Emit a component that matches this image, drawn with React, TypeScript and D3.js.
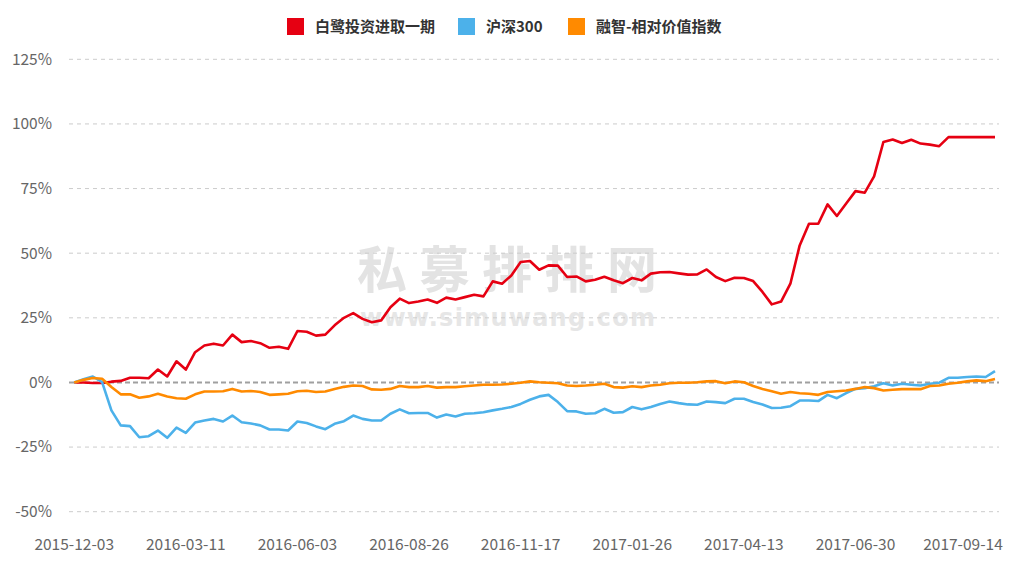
import * as d3 from "d3";

// 白鹭投资进取一期 vs 沪深300 vs 融智-相对价值指数 (cumulative return, %)
const tickLabels = [
  "2015-12-03", "2016-03-11", "2016-06-03", "2016-08-26", "2016-11-17",
  "2017-01-26", "2017-04-13", "2017-06-30", "2017-09-14",
];
const tickEvery = 12;

const fundValues = [
  0, 0, -0.2, -0.2, 0.3, 0.6, 1.8, 1.8, 1.6, 5.0,
  2.3, 8.2, 5.0, 11.7, 14.3, 15.0, 14.3, 18.5, 15.6, 16.0,
  15.2, 13.4, 13.8, 13.0, 19.9, 19.6, 18.1, 18.5, 22.1, 25.0,
  26.8, 24.6, 23.3, 24.0, 29.1, 32.4, 30.7, 31.3, 32.1, 30.8,
  32.8, 32.1, 33.0, 33.9, 33.3, 39.1, 38.2, 41.4, 46.6, 47.0,
  43.6, 45.3, 45.2, 40.8, 41.0, 39.1, 39.7, 40.9, 39.5, 38.4,
  40.4, 39.5, 42.1, 42.6, 42.7, 42.2, 41.7, 41.8, 43.7, 40.8,
  39.2, 40.5, 40.4, 39.2, 35.0, 30.2, 31.3, 38.2, 53.0, 61.4,
  61.4, 68.9, 64.4, 69.2, 74.0, 73.4, 79.7, 93.0, 94.0, 92.6,
  93.9, 92.4, 92.0, 91.4, 94.9, 94.9, 94.9, 94.9, 94.9, 94.9,
];

const hs300Values = [
  0, 1.2, 2.3, 0.1, -10.8, -16.6, -16.9, -21.2, -20.8, -18.6,
  -21.4, -17.5, -19.5, -15.5, -14.7, -14.1, -15.1, -12.8, -15.4, -15.9,
  -16.6, -18.2, -18.2, -18.6, -15.1, -15.7, -17.0, -18.1, -16.0, -15.0,
  -12.8, -14.1, -14.7, -14.7, -12.1, -10.4, -11.9, -11.8, -11.8, -13.6,
  -12.4, -13.2, -12.1, -11.9, -11.5, -10.8, -10.2, -9.5, -8.3, -6.7,
  -5.4, -4.8, -7.6, -11.1, -11.2, -12.1, -11.9, -10.2, -11.7, -11.5,
  -9.5, -10.4, -9.5, -8.3, -7.4, -8.0, -8.5, -8.6, -7.4, -7.6,
  -8.0, -6.3, -6.3, -7.6, -8.5, -9.9, -9.8, -9.2, -7.0, -7.0,
  -7.2, -4.8, -6.1, -4.1, -2.5, -2.2, -1.5, -0.3, -1.2, -0.5,
  -0.9, -1.2, -0.5, -0.1, 1.8, 1.8, 2.1, 2.3, 2.1, 4.4,
];

const indexValues = [
  0, 1.0, 1.7, 1.4, -1.8, -4.6, -4.6, -5.9, -5.4, -4.4,
  -5.4, -6.1, -6.3, -4.6, -3.5, -3.5, -3.4, -2.5, -3.5, -3.3,
  -3.7, -4.8, -4.6, -4.4, -3.4, -3.2, -3.7, -3.5, -2.5, -1.7,
  -1.2, -1.4, -2.7, -2.8, -2.5, -1.4, -1.8, -1.8, -1.4, -2.0,
  -1.8, -1.8, -1.5, -1.2, -0.9, -0.9, -0.8, -0.5, -0.1, 0.4,
  0.1, -0.1, -0.3, -1.2, -1.4, -1.2, -0.9, -0.5, -1.8, -2.0,
  -1.5, -1.8, -1.2, -0.9, -0.3, -0.1, -0.1, 0.1, 0.4, 0.5,
  -0.3, 0.4, 0.1, -1.4, -2.5, -3.4, -4.4, -3.7, -4.2, -4.4,
  -4.8, -3.7, -3.4, -3.1, -2.5, -1.8, -2.2, -3.1, -2.8, -2.6,
  -2.6, -2.6, -1.4, -1.2, -0.5, -0.1, 0.4, 0.8, 0.5, 1.3,
];

const yTicks = [125, 100, 75, 50, 25, 0, -25, -50];

const series = [
  { name: "白鹭投资进取一期", values: fundValues, color: "#e60012" },
  { name: "沪深300", values: hs300Values, color: "#4cb1ea" },
  { name: "融智-相对价值指数", values: indexValues, color: "#ff8a00" },
];

const W = 1009;
const H = 562;
const font = "'Noto Sans CJK SC', 'Noto Sans', sans-serif";

export default function App() {
  const n = fundValues.length;
  const x = d3.scaleLinear().domain([0, n - 1]).range([74.2, 995]);
  const y = d3.scaleLinear().domain([-50, 125]).range([511.7, 59.3]);
  const line = d3
    .line<number>()
    .x((_, i) => x(i))
    .y((d) => y(d));

  const legendX = [287, 458, 568];

  return (
    <svg
      width={W}
      height={H}
      style={{ position: "absolute", left: 0, top: 0, display: "block", background: "#fff" }}
      fontFamily={font}
    >
      {/* watermark */}
      <text
        x={357}
        y={288}
        fontSize={50}
        fontWeight="bold"
        fill="#e3e3e3"
        textLength={300}
        lengthAdjust="spacing"
      >
        私募排排网
      </text>
      <text
        x={360}
        y={326}
        fontSize={24}
        fontWeight="bold"
        fill="#e6e6e6"
        textLength={295}
        lengthAdjust="spacing"
        fontFamily="'DejaVu Sans', sans-serif"
      >
        www.simuwang.com
      </text>

      {/* grid */}
      {yTicks.map((t) => (
        <g key={t}>
          {t !== 0 && (
            <line
              x1={69}
              x2={999}
              y1={y(t)}
              y2={y(t)}
              stroke="#cccccc"
              strokeWidth={1}
              strokeDasharray="4 4"
            />
          )}
          <text
            x={52}
            y={y(t)}
            dy="0.35em"
            textAnchor="end"
            fontSize={15.5}
            fill="#666"
          >
            {t}%
          </text>
        </g>
      ))}
      <line
        x1={69}
        x2={999}
        y1={y(0)}
        y2={y(0)}
        stroke="#a0a0a0"
        strokeWidth={2}
        strokeDasharray="5 3"
      />

      {/* x labels */}
      {tickLabels.map((label, k) => (
        <text
          key={label}
          x={Math.min(x(k * tickEvery), 963)}
          y={550}
          textAnchor="middle"
          fontSize={15.5}
          fill="#666"
        >
          {label}
        </text>
      ))}

      {/* lines */}
      {series.map((s) => (
        <path
          key={s.name}
          d={line(s.values) || ""}
          fill="none"
          stroke={s.color}
          strokeWidth={2.6}
          strokeLinejoin="round"
        />
      ))}

      {/* legend */}
      {series.map((s, i) => (
        <g key={s.name} transform={`translate(${legendX[i]},18)`}>
          <rect width={17} height={17} fill={s.color} />
          <text x={28} y={8.5} dy="0.36em" fontSize={15} fontWeight={600} fill="#333">
            {s.name}
          </text>
        </g>
      ))}
    </svg>
  );
}
